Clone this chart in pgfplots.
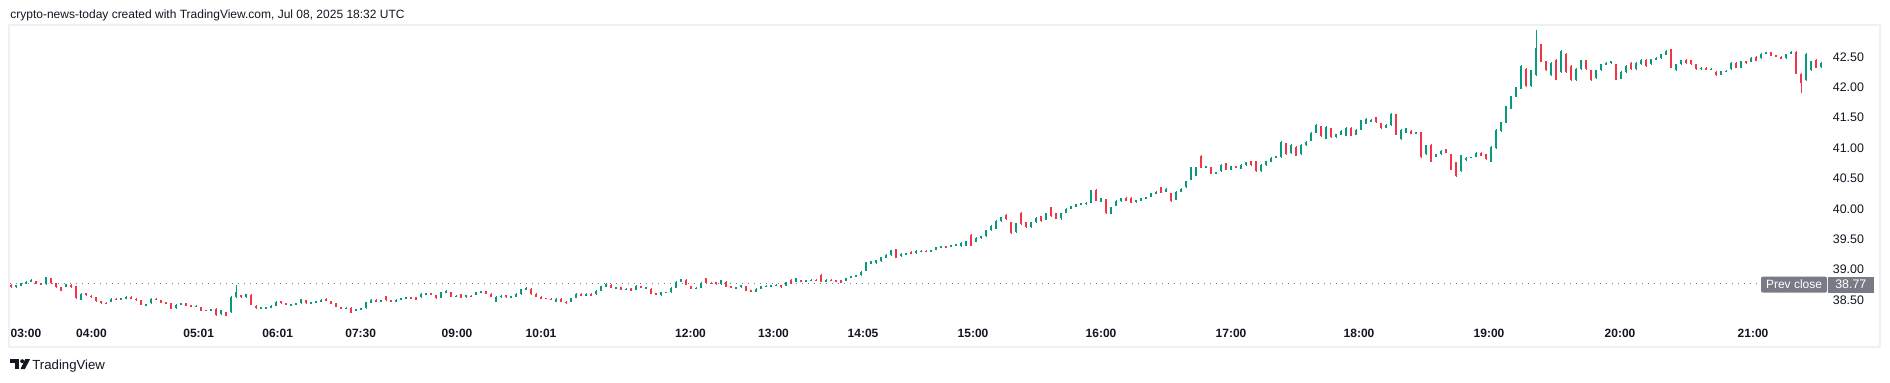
\documentclass[border=0pt]{standalone}
\usepackage{fontspec}
\setmainfont{Liberation Sans}
\usepackage{pgfplots}
\pgfplotsset{compat=1.18}
\usepackage{pgfplotstable}
\definecolor{tvgreen}{HTML}{089981}
\definecolor{tvred}{HTML}{F23645}
\definecolor{tvtext}{HTML}{131722}
\definecolor{tvgray}{HTML}{787B86}
\definecolor{tvborder}{HTML}{EEF0F3}
\pgfplotstableread{
i o h l c
0 38.75 38.76 38.70 38.72
1 38.71 38.75 38.69 38.74
2 38.74 38.78 38.73 38.77
3 38.77 38.81 38.76 38.80
4 38.80 38.84 38.79 38.82
5 38.81 38.82 38.76 38.77
6 38.77 38.78 38.74 38.75
7 38.76 38.88 38.75 38.87
8 38.85 38.86 38.77 38.78
9 38.77 38.78 38.70 38.71
10 38.71 38.72 38.65 38.66
11 38.72 38.77 38.71 38.76
12 38.75 38.76 38.70 38.72
13 38.72 38.73 38.52 38.53
14 38.51 38.62 38.50 38.60
15 38.61 38.62 38.57 38.58
16 38.57 38.58 38.54 38.55
17 38.54 38.55 38.47 38.48
18 38.48 38.49 38.44 38.45
19 38.45 38.46 38.43 38.44
20 38.47 38.53 38.46 38.52
21 38.52 38.53 38.50 38.51
22 38.51 38.54 38.50 38.53
23 38.53 38.56 38.52 38.55
24 38.55 38.56 38.51 38.52
25 38.52 38.53 38.49 38.50
26 38.49 38.50 38.41 38.42
27 38.42 38.44 38.41 38.43
28 38.45 38.53 38.44 38.52
29 38.52 38.53 38.50 38.51
30 38.49 38.50 38.45 38.46
31 38.46 38.47 38.43 38.44
32 38.44 38.45 38.35 38.36
33 38.37 38.43 38.36 38.42
34 38.42 38.45 38.41 38.44
35 38.44 38.45 38.40 38.41
36 38.41 38.42 38.38 38.39
37 38.39 38.41 38.38 38.40
38 38.38 38.39 38.32 38.33
39 38.335 38.34 38.32 38.33
40 38.33 38.35 38.32 38.34
41 38.35 38.37 38.24 38.26
42 38.27 38.34 38.26 38.33
43 38.30 38.31 38.23 38.24
44 38.30 38.56 38.28 38.55
45 38.55 38.74 38.54 38.62
46 38.58 38.59 38.54 38.55
47 38.55 38.60 38.54 38.59
48 38.58 38.60 38.41 38.42
49 38.40 38.41 38.36 38.37
50 38.37 38.39 38.36 38.38
51 38.37 38.39 38.36 38.38
52 38.38 38.41 38.37 38.40
53 38.41 38.48 38.40 38.47
54 38.48 38.49 38.44 38.45
55 38.44 38.45 38.41 38.42
56 38.42 38.44 38.41 38.43
57 38.43 38.45 38.42 38.44
58 38.45 38.52 38.44 38.51
59 38.49 38.50 38.44 38.45
60 38.45 38.47 38.44 38.46
61 38.46 38.49 38.45 38.48
62 38.48 38.51 38.47 38.50
63 38.52 38.53 38.48 38.49
64 38.48 38.49 38.43 38.44
65 38.44 38.45 38.38 38.39
66 38.38 38.39 38.35 38.36
67 38.36 38.38 38.35 38.37
68 38.37 38.38 38.28 38.29
69 38.33 38.35 38.32 38.34
70 38.34 38.37 38.33 38.36
71 38.37 38.47 38.36 38.46
72 38.46 38.51 38.45 38.50
73 38.50 38.51 38.46 38.47
74 38.47 38.50 38.46 38.49
75 38.56 38.57 38.49 38.50
76 38.49 38.50 38.46 38.47
77 38.47 38.51 38.46 38.50
78 38.51 38.54 38.50 38.53
79 38.53 38.55 38.52 38.54
80 38.54 38.55 38.52 38.53
81 38.54 38.55 38.50 38.51
82 38.55 38.61 38.54 38.60
83 38.60 38.62 38.59 38.61
84 38.61 38.62 38.59 38.60
85 38.58 38.59 38.52 38.53
86 38.54 38.63 38.53 38.62
87 38.62 38.66 38.61 38.65
88 38.62 38.63 38.55 38.56
89 38.56 38.58 38.55 38.57
90 38.59 38.60 38.53 38.54
91 38.55 38.59 38.54 38.58
92 38.57 38.58 38.55 38.56
93 38.59 38.64 38.58 38.63
94 38.63 38.65 38.62 38.64
95 38.64 38.65 38.60 38.61
96 38.60 38.61 38.55 38.56
97 38.47 38.56 38.46 38.55
98 38.55 38.58 38.54 38.57
99 38.58 38.59 38.54 38.55
100 38.55 38.57 38.54 38.56
101 38.56 38.61 38.55 38.60
102 38.60 38.68 38.59 38.67
103 38.67 38.71 38.66 38.70
104 38.68 38.69 38.59 38.60
105 38.60 38.61 38.55 38.56
106 38.55 38.56 38.52 38.53
107 38.53 38.54 38.51 38.52
108 38.52 38.53 38.50 38.51
109 38.47 38.53 38.46 38.52
110 38.52 38.53 38.46 38.47
111 38.47 38.48 38.44 38.45
112 38.47 38.54 38.46 38.53
113 38.54 38.61 38.53 38.60
114 38.60 38.61 38.57 38.58
115 38.58 38.61 38.57 38.60
116 38.60 38.61 38.56 38.57
117 38.60 38.66 38.59 38.65
118 38.66 38.73 38.65 38.72
119 38.72 38.78 38.71 38.76
120 38.75 38.76 38.69 38.70
121 38.70 38.72 38.69 38.71
122 38.71 38.72 38.66 38.67
123 38.67 38.69 38.66 38.68
124 38.69 38.70 38.65 38.66
125 38.67 38.74 38.66 38.73
126 38.72 38.73 38.69 38.70
127 38.70 38.72 38.69 38.71
128 38.68 38.69 38.60 38.61
129 38.61 38.62 38.58 38.59
130 38.58 38.63 38.57 38.62
131 38.62 38.64 38.61 38.63
132 38.63 38.71 38.62 38.70
133 38.71 38.81 38.70 38.80
134 38.80 38.85 38.79 38.84
135 38.83 38.84 38.74 38.75
136 38.72 38.73 38.68 38.69
137 38.69 38.71 38.68 38.70
138 38.70 38.79 38.69 38.78
139 38.86 38.87 38.78 38.79
140 38.78 38.80 38.76 38.77
141 38.79 38.80 38.75 38.76
142 38.76 38.83 38.75 38.82
143 38.80 38.81 38.71 38.72
144 38.72 38.73 38.69 38.70
145 38.70 38.72 38.69 38.71
146 38.71 38.75 38.70 38.74
147 38.72 38.73 38.65 38.66
148 38.66 38.67 38.63 38.64
149 38.64 38.69 38.63 38.68
150 38.69 38.73 38.68 38.72
151 38.72 38.74 38.71 38.73
152 38.73 38.75 38.72 38.74
153 38.74 38.76 38.73 38.75
154 38.74 38.75 38.70 38.71
155 38.74 38.80 38.73 38.79
156 38.83 38.84 38.76 38.77
157 38.80 38.87 38.79 38.86
158 38.82 38.83 38.80 38.81
159 38.81 38.83 38.80 38.82
160 38.82 38.84 38.81 38.83
161 38.83 38.84 38.81 38.82
162 38.91 38.92 38.79 38.80
163 38.80 38.84 38.79 38.83
164 38.83 38.84 38.81 38.82
165 38.82 38.83 38.80 38.81
166 38.82 38.83 38.78 38.79
167 38.82 38.87 38.81 38.86
168 38.87 38.90 38.86 38.89
169 38.89 38.91 38.88 38.90
170 38.91 38.97 38.90 38.96
171 38.98 39.13 38.97 39.12
172 39.10 39.14 39.09 39.13
173 39.11 39.16 39.10 39.15
174 39.14 39.21 39.13 39.20
175 39.20 39.25 39.19 39.24
176 39.24 39.33 39.23 39.32
177 39.33 39.34 39.19 39.20
178 39.22 39.27 39.21 39.26
179 39.26 39.28 39.25 39.27
180 39.29 39.30 39.25 39.26
181 39.27 39.32 39.26 39.31
182 39.30 39.32 39.29 39.31
183 39.31 39.32 39.29 39.30
184 39.30 39.33 39.29 39.32
185 39.33 39.38 39.32 39.37
186 39.37 39.39 39.36 39.38
187 39.38 39.39 39.36 39.37
188 39.38 39.41 39.37 39.40
189 39.40 39.42 39.39 39.41
190 39.39 39.45 39.38 39.44
191 39.40 39.47 39.39 39.46
192 39.57 39.58 39.39 39.40
193 39.46 39.53 39.45 39.52
194 39.52 39.56 39.51 39.55
195 39.55 39.66 39.54 39.65
196 39.65 39.73 39.64 39.72
197 39.68 39.81 39.67 39.80
198 39.80 39.87 39.79 39.86
199 39.90 39.91 39.82 39.83
200 39.78 39.79 39.58 39.60
201 39.62 39.77 39.61 39.76
202 39.93 39.94 39.74 39.75
203 39.78 39.79 39.69 39.70
204 39.70 39.79 39.69 39.78
205 39.78 39.86 39.77 39.85
206 39.88 39.89 39.79 39.80
207 39.82 39.93 39.81 39.92
208 40.02 40.03 39.87 39.88
209 39.92 39.93 39.83 39.84
210 39.86 39.93 39.82 39.92
211 39.94 40.01 39.93 40.00
212 40.00 40.05 39.99 40.04
213 40.04 40.08 40.03 40.07
214 40.07 40.10 40.06 40.09
215 40.08 40.11 40.07 40.10
216 40.10 40.31 40.09 40.30
217 40.31 40.32 40.13 40.14
218 40.12 40.18 40.11 40.17
219 40.15 40.16 39.92 39.93
220 39.92 40.03 39.91 40.02
221 40.05 40.14 40.04 40.13
222 40.13 40.18 40.12 40.17
223 40.18 40.19 40.13 40.14
224 40.18 40.19 40.09 40.10
225 40.11 40.15 40.10 40.14
226 40.14 40.18 40.13 40.17
227 40.17 40.20 40.16 40.19
228 40.20 40.26 40.19 40.25
229 40.25 40.29 40.24 40.28
230 40.35 40.36 40.26 40.27
231 40.28 40.34 40.27 40.33
232 40.25 40.26 40.12 40.13
233 40.15 40.29 40.14 40.28
234 40.28 40.34 40.27 40.33
235 40.36 40.46 40.35 40.45
236 40.48 40.69 40.47 40.68
237 40.55 40.69 40.54 40.68
238 40.86 40.88 40.67 40.68
239 40.68 40.71 40.67 40.70
240 40.68 40.69 40.57 40.58
241 40.58 40.61 40.57 40.60
242 40.62 40.73 40.61 40.72
243 40.75 40.76 40.64 40.65
244 40.65 40.71 40.64 40.70
245 40.70 40.71 40.67 40.68
246 40.66 40.73 40.65 40.72
247 40.72 40.77 40.71 40.76
248 40.78 40.79 40.71 40.72
249 40.78 40.79 40.61 40.62
250 40.62 40.73 40.61 40.72
251 40.72 40.79 40.71 40.78
252 40.78 40.85 40.77 40.84
253 40.84 40.87 40.83 40.86
254 40.85 41.12 40.84 41.10
255 41.08 41.09 40.89 40.90
256 40.92 41.06 40.91 41.05
257 41.02 41.03 40.87 40.88
258 40.90 41.06 40.89 41.05
259 41.05 41.11 41.04 41.10
260 41.12 41.26 41.11 41.25
261 41.25 41.39 41.24 41.38
262 41.36 41.37 41.19 41.20
263 41.16 41.36 41.15 41.35
264 41.32 41.33 41.17 41.18
265 41.18 41.23 41.17 41.22
266 41.22 41.29 41.21 41.28
267 41.20 41.34 41.19 41.33
268 41.33 41.34 41.19 41.20
269 41.22 41.31 41.21 41.30
270 41.30 41.46 41.29 41.45
271 41.40 41.49 41.39 41.48
272 41.44 41.47 41.43 41.46
273 41.50 41.51 41.42 41.43
274 41.40 41.41 41.32 41.33
275 41.34 41.39 41.33 41.38
276 41.38 41.57 41.37 41.55
277 41.55 41.56 41.21 41.22
278 41.15 41.31 41.14 41.30
279 41.25 41.33 41.24 41.32
280 41.28 41.29 41.23 41.24
281 41.24 41.27 41.23 41.26
282 41.26 41.27 40.84 40.85
283 40.90 41.05 40.89 41.04
284 41.05 41.06 40.77 40.78
285 40.86 40.91 40.85 40.90
286 40.90 40.96 40.89 40.95
287 40.98 40.99 40.92 40.93
288 40.90 40.91 40.64 40.65
289 40.76 40.77 40.53 40.55
290 40.62 40.89 40.61 40.88
291 40.80 40.85 40.79 40.84
292 40.84 40.86 40.83 40.85
293 40.86 40.93 40.85 40.92
294 40.92 40.93 40.87 40.88
295 40.90 40.91 40.81 40.82
296 40.78 41.03 40.77 41.02
297 41.00 41.31 40.99 41.30
298 41.28 41.43 41.27 41.42
299 41.42 41.69 41.41 41.68
300 41.65 41.86 41.64 41.85
301 41.85 42.01 41.84 42.00
302 41.98 42.36 41.97 42.35
303 42.30 42.31 42.01 42.02
304 42.02 42.29 42.01 42.28
305 42.20 42.94 42.19 42.65
306 42.70 42.71 42.41 42.42
307 42.42 42.43 42.27 42.28
308 42.20 42.41 42.19 42.40
309 42.45 42.46 42.12 42.13
310 42.25 42.62 42.24 42.60
311 42.55 42.56 42.24 42.25
312 42.35 42.36 42.11 42.12
313 42.12 42.31 42.11 42.30
314 42.30 42.45 42.29 42.44
315 42.44 42.45 42.29 42.30
316 42.28 42.29 42.11 42.12
317 42.15 42.29 42.14 42.28
318 42.28 42.39 42.27 42.38
319 42.38 42.41 42.37 42.40
320 42.40 42.43 42.39 42.42
321 42.38 42.39 42.12 42.13
322 42.14 42.26 42.13 42.25
323 42.25 42.36 42.24 42.35
324 42.40 42.41 42.29 42.30
325 42.30 42.41 42.29 42.40
326 42.38 42.46 42.37 42.45
327 42.45 42.46 42.34 42.35
328 42.38 42.47 42.37 42.46
329 42.46 42.49 42.45 42.48
330 42.48 42.55 42.47 42.54
331 42.54 42.61 42.53 42.60
332 42.62 42.63 42.31 42.32
333 42.28 42.39 42.27 42.38
334 42.38 42.45 42.37 42.44
335 42.45 42.46 42.39 42.40
336 42.44 42.45 42.37 42.38
337 42.38 42.39 42.29 42.30
338 42.30 42.33 42.29 42.32
339 42.32 42.33 42.28 42.29
340 42.29 42.31 42.28 42.30
341 42.25 42.26 42.19 42.20
342 42.21 42.27 42.20 42.26
343 42.26 42.28 42.25 42.27
344 42.30 42.41 42.29 42.40
345 42.40 42.41 42.31 42.32
346 42.32 42.43 42.31 42.42
347 42.42 42.43 42.39 42.40
348 42.42 42.49 42.41 42.48
349 42.50 42.51 42.43 42.44
350 42.48 42.56 42.47 42.55
351 42.55 42.58 42.54 42.57
352 42.57 42.58 42.51 42.52
353 42.52 42.53 42.49 42.50
354 42.50 42.51 42.46 42.47
355 42.48 42.55 42.47 42.54
356 42.55 42.59 42.54 42.58
357 42.58 42.59 42.21 42.22
358 42.22 42.23 41.90 42.08
359 42.12 42.56 42.11 42.55
360 42.28 42.43 42.27 42.42
361 42.45 42.46 42.31 42.32
362 42.33 42.41 42.32 42.40
}\candles
\begin{document}
\begin{tikzpicture}
\useasboundingbox[fill=white] (0pt,0pt) rectangle (945pt,-191pt);
% panel border
\draw[tvborder, line width=1pt] (4.5pt,-12.5pt) rectangle (940pt,-173.5pt);
% title
\node[anchor=base west, inner sep=0pt, text=tvtext, font=\fontsize{6}{7}\selectfont] at (5pt,-9.2pt)
  {crypto-news-today created with TradingView.com, Jul 08, 2025 18:32 UTC};
\begin{axis}[
  at={(5pt,-12.5pt)}, anchor=north west,
  scale only axis, width=909pt, height=146.5pt,
  xmin=-0.2, xmax=363.4, ymin=38.204, ymax=43.024,
  axis line style={draw=none},
  major tick length=0pt, tick style={draw=none},
  ytick={38.5,39,39.5,40,40.5,41,41.5,42,42.5},
  yticklabel pos=right,
  yticklabel style={anchor=east, xshift=21.5pt, text=tvtext,
    font=\fontsize{6.2}{7}\selectfont,
    /pgf/number format/.cd, fixed, fixed zerofill, precision=2, assume math mode=true},
  xtick={3.0,16.1,37.54,53.34,69.94,89.2,106.0,135.9,152.5,170.4,192.4,218.0,244.0,269.6,295.6,321.8,348.4},
  xticklabels={03:00,04:00,05:01,06:01,07:30,09:00,10:01,12:00,13:00,14:05,15:00,16:00,17:00,18:00,19:00,20:00,21:00},
  xticklabel style={anchor=base, yshift=-9.5pt, text=tvtext, font=\bfseries\fontsize{6}{7}\selectfont},
  restrict y to domain=30:50,
]
% previous close line
\addplot[tvgray, line width=0.5pt, dash pattern=on 0.6pt off 2.4pt, forget plot]
  coordinates {(-0.2,38.77) (349.8,38.77)};
% up candles: wicks and bodies
\addplot[draw=none, mark=none, forget plot,
  error bars/.cd, y dir=both, y explicit, error mark=none,
  error bar style={draw=tvgreen, solid, line width=0.5pt}]
  table[x=i, y expr={\thisrow{c}>=\thisrow{o} ? (\thisrow{h}+\thisrow{l})/2 : 1000},
        y error expr={(\thisrow{h}-\thisrow{l})/2}] {\candles};
\addplot[draw=none, mark=none, forget plot,
  error bars/.cd, y dir=both, y explicit, error mark=none,
  error bar style={draw=tvgreen, solid, line width=1.1pt}]
  table[x=i, y expr={\thisrow{c}>=\thisrow{o} ? (\thisrow{o}+\thisrow{c})/2 : 1000},
        y error expr={abs(\thisrow{c}-\thisrow{o})/2+0.004}] {\candles};
% down candles
\addplot[draw=none, mark=none, forget plot,
  error bars/.cd, y dir=both, y explicit, error mark=none,
  error bar style={draw=tvred, solid, line width=0.5pt}]
  table[x=i, y expr={\thisrow{c}<\thisrow{o} ? (\thisrow{h}+\thisrow{l})/2 : 1000},
        y error expr={(\thisrow{h}-\thisrow{l})/2}] {\candles};
\addplot[draw=none, mark=none, forget plot,
  error bars/.cd, y dir=both, y explicit, error mark=none,
  error bar style={draw=tvred, solid, line width=1.1pt}]
  table[x=i, y expr={\thisrow{c}<\thisrow{o} ? (\thisrow{o}+\thisrow{c})/2 : 1000},
        y error expr={abs(\thisrow{c}-\thisrow{o})/2+0.004}] {\candles};
\end{axis}
% prev close labels
\fill[tvgray, rounded corners=1pt] (880.5pt,-138.3pt) rectangle (913.5pt,-146.3pt);
\fill[tvgray] (914pt,-138.3pt) rectangle (936.8pt,-146.3pt);
\node[text=white, font=\fontsize{6}{7}\selectfont, inner sep=0pt] at (897pt,-142.3pt) {Prev close};
\node[text=white, font=\fontsize{6.2}{7}\selectfont, inner sep=0pt] at (925.4pt,-142.3pt) {38.77};
% TradingView logo
\fill[tvtext] (5pt,-179.6pt) rectangle (9.6pt,-181.6pt);
\fill[tvtext] (7.4pt,-181.6pt) rectangle (9.6pt,-184.6pt);
\fill[tvtext] (11.1pt,-180.6pt) circle (1pt);
\fill[tvtext] (12.6pt,-179.6pt) -- (15pt,-179.6pt) -- (12.4pt,-184.6pt) -- (10.2pt,-184.6pt) -- cycle;
\node[anchor=base west, inner sep=0pt, text=tvtext, font=\fontsize{6.6}{8}\selectfont] at (16pt,-184.6pt) {TradingView};
\end{tikzpicture}
\end{document}
